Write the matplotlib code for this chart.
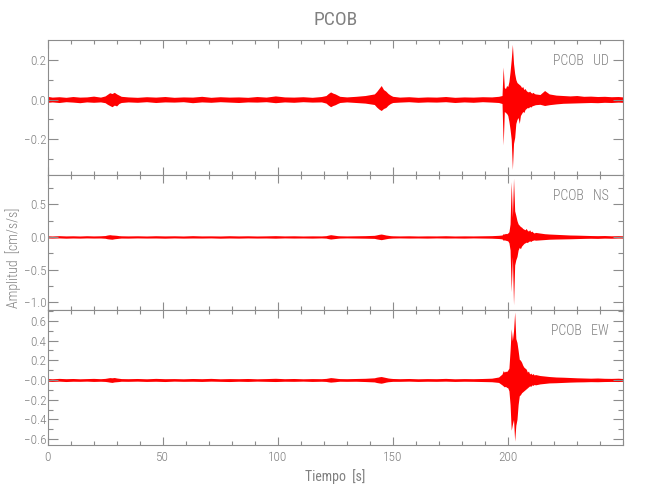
import matplotlib

matplotlib.use("Agg")
import matplotlib.pyplot as plt
from matplotlib.ticker import MultipleLocator

OUT_FILENAME = "out.png"

RED = "#ff0000"
GRAY = "#8c8c8c"
TEXT_GRAY = "#808080"

plt.rcParams["font.family"] = ["Liberation Sans Narrow", "Roboto Condensed", "DejaVu Sans"]
plt.rcParams["font.stretch"] = "condensed"
plt.rcParams["font.weight"] = "light"

STATION = "PCOB"
COMPONENTS = ["UD", "NS", "EW"]

TIME = [
    0, 2, 5, 8, 11, 14, 17, 20, 23,
    25, 26, 27, 28, 29, 30, 31, 32,
    35, 39, 43, 47, 51, 55, 59, 63, 67, 71, 75, 79, 83, 87, 91, 95, 99, 103, 107, 111, 115, 119,
    121, 122, 123, 124, 125, 126, 127,
    130, 134, 138,
    142, 143, 144, 145, 146, 147, 148, 149, 150,
    153, 157, 161, 165, 169, 173, 177, 181, 185, 189, 193, 196,
    197.5, 198, 198.5, 199, 199.5, 200, 200.5, 201, 201.5, 202, 202.5, 203, 203.5, 204, 204.5,
    205, 205.5, 206, 206.5, 207, 207.5, 208, 208.5, 209, 209.5, 210, 210.5, 211, 211.5, 212,
    214, 216, 218, 221, 224, 227, 230, 233, 236, 239, 242, 245, 248, 250,
]

# Upper / lower envelope of each component (cm/s/s)
UD_UP = [
    0.016, 0.012, 0.014, 0.011, 0.015, 0.012, 0.013, 0.017, 0.012,
    0.018, 0.026, 0.034, 0.030, 0.036, 0.028, 0.022, 0.016,
    0.013, 0.011, 0.014, 0.012, 0.015, 0.011, 0.013, 0.012, 0.016, 0.011, 0.014,
    0.012, 0.013, 0.011, 0.015, 0.012, 0.018, 0.013, 0.012, 0.014, 0.011, 0.015,
    0.020, 0.030, 0.038, 0.032, 0.028, 0.022, 0.016,
    0.013, 0.016, 0.020,
    0.028, 0.040, 0.055, 0.070, 0.050, 0.042, 0.030, 0.022, 0.016,
    0.012, 0.014, 0.011, 0.013, 0.012, 0.015, 0.011, 0.013, 0.012, 0.014, 0.013, 0.016,
    0.020, 0.163, 0.060, 0.055, 0.070, 0.065, 0.090, 0.140, 0.200, 0.276, 0.180, 0.130, 0.100, 0.085, 0.080,
    0.075, 0.070, 0.060, 0.065, 0.050, 0.055, 0.045, 0.040, 0.038, 0.042, 0.035, 0.032, 0.036, 0.030, 0.028,
    0.025, 0.045, 0.028, 0.022, 0.020, 0.018, 0.020, 0.016, 0.017, 0.015, 0.016, 0.014, 0.015, 0.013,
]
UD_LO = [
    -0.014, -0.012, -0.015, -0.011, -0.013, -0.016, -0.012, -0.014, -0.012,
    -0.016, -0.024, -0.030, -0.036, -0.028, -0.032, -0.020, -0.015,
    -0.012, -0.014, -0.011, -0.015, -0.012, -0.013, -0.011, -0.016, -0.012, -0.014, -0.011,
    -0.013, -0.015, -0.012, -0.013, -0.011, -0.016, -0.012, -0.014, -0.011, -0.013, -0.012,
    -0.018, -0.028, -0.036, -0.030, -0.026, -0.020, -0.015,
    -0.012, -0.015, -0.018,
    -0.025, -0.038, -0.048, -0.055, -0.045, -0.040, -0.028, -0.020, -0.015,
    -0.013, -0.011, -0.014, -0.012, -0.013, -0.011, -0.015, -0.012, -0.014, -0.011, -0.013, -0.015,
    -0.020, -0.228, -0.060, -0.065, -0.070, -0.080, -0.110, -0.150, -0.200, -0.350, -0.220, -0.190, -0.120, -0.100, -0.090,
    -0.120, -0.080, -0.070, -0.060, -0.065, -0.050, -0.045, -0.040, -0.042, -0.035, -0.038, -0.032, -0.030, -0.028, -0.026,
    -0.024, -0.030, -0.026, -0.022, -0.019, -0.018, -0.017, -0.016, -0.015, -0.016, -0.014, -0.015, -0.013, -0.014,
]

NS_UP = [
    0.018, 0.015, 0.020, 0.016, 0.018, 0.015, 0.019, 0.016, 0.018,
    0.022, 0.030, 0.035, 0.030, 0.028, 0.025, 0.020, 0.018,
    0.016, 0.018, 0.015, 0.019, 0.016, 0.018, 0.015, 0.020, 0.016, 0.017, 0.015,
    0.019, 0.016, 0.018, 0.015, 0.017, 0.020, 0.016, 0.018, 0.015, 0.017, 0.016,
    0.020, 0.028, 0.035, 0.030, 0.025, 0.020, 0.018,
    0.016, 0.018, 0.020,
    0.025, 0.032, 0.040, 0.045, 0.038, 0.030, 0.025, 0.020, 0.018,
    0.016, 0.018, 0.015, 0.017, 0.016, 0.019, 0.015, 0.017, 0.016, 0.018, 0.020, 0.025,
    0.030, 0.050, 0.045, 0.055, 0.050, 0.060, 0.080, 0.200, 0.850, 0.300, 0.900, 0.400, 0.330, 0.250, 0.200,
    0.180, 0.160, 0.150, 0.130, 0.120, 0.110, 0.130, 0.100, 0.090, 0.110, 0.080, 0.090, 0.070, 0.060, 0.070,
    0.060, 0.050, 0.045, 0.040, 0.035, 0.030, 0.028, 0.025, 0.022, 0.020, 0.022, 0.018, 0.020, 0.018,
]
NS_LO = [
    -0.016, -0.018, -0.015, -0.019, -0.016, -0.018, -0.015, -0.017, -0.016,
    -0.020, -0.028, -0.032, -0.035, -0.028, -0.024, -0.020, -0.017,
    -0.018, -0.015, -0.017, -0.016, -0.019, -0.015, -0.018, -0.016, -0.017, -0.015, -0.019,
    -0.016, -0.018, -0.015, -0.017, -0.016, -0.019, -0.015, -0.017, -0.016, -0.018, -0.015,
    -0.018, -0.026, -0.032, -0.028, -0.024, -0.020, -0.017,
    -0.015, -0.017, -0.019,
    -0.022, -0.030, -0.036, -0.042, -0.035, -0.028, -0.022, -0.019, -0.017,
    -0.015, -0.017, -0.016, -0.018, -0.015, -0.017, -0.016, -0.018, -0.015, -0.017, -0.019, -0.024,
    -0.030, -0.050, -0.045, -0.050, -0.055, -0.060, -0.090, -0.200, -0.840, -0.300, -1.040, -0.430, -0.350, -0.300, -0.200,
    -0.160, -0.180, -0.140, -0.120, -0.100, -0.090, -0.080, -0.085, -0.070, -0.060, -0.070, -0.055, -0.050, -0.045, -0.050,
    -0.045, -0.040, -0.035, -0.032, -0.030, -0.028, -0.025, -0.022, -0.020, -0.022, -0.018, -0.020, -0.017, -0.018,
]

EW_UP = [
    0.015, 0.012, 0.016, 0.013, 0.015, 0.012, 0.014, 0.016, 0.013,
    0.016, 0.020, 0.024, 0.022, 0.025, 0.020, 0.017, 0.014,
    0.013, 0.015, 0.012, 0.016, 0.013, 0.014, 0.012, 0.015, 0.013, 0.016, 0.012,
    0.014, 0.013, 0.015, 0.012, 0.014, 0.017, 0.013, 0.015, 0.012, 0.014, 0.013,
    0.016, 0.020, 0.024, 0.022, 0.019, 0.016, 0.014,
    0.013, 0.015, 0.017,
    0.022, 0.028, 0.032, 0.035, 0.030, 0.025, 0.020, 0.017, 0.015,
    0.013, 0.015, 0.012, 0.014, 0.013, 0.016, 0.012, 0.014, 0.013, 0.015, 0.018, 0.030,
    0.060, 0.095, 0.080, 0.090, 0.085, 0.100, 0.120, 0.300, 0.520, 0.400, 0.500, 0.690, 0.420, 0.380, 0.300,
    0.210, 0.200, 0.180, 0.150, 0.130, 0.120, 0.110, 0.080, 0.090, 0.060, 0.070, 0.055, 0.065, 0.050, 0.055,
    0.045, 0.040, 0.035, 0.030, 0.028, 0.025, 0.022, 0.020, 0.018, 0.020, 0.017, 0.016, 0.018, 0.015,
]
EW_LO = [
    -0.013, -0.015, -0.012, -0.016, -0.013, -0.014, -0.012, -0.015, -0.013,
    -0.015, -0.018, -0.022, -0.025, -0.020, -0.018, -0.016, -0.013,
    -0.014, -0.012, -0.015, -0.013, -0.016, -0.012, -0.014, -0.013, -0.015, -0.012, -0.014,
    -0.016, -0.013, -0.015, -0.012, -0.014, -0.016, -0.013, -0.014, -0.012, -0.015, -0.013,
    -0.015, -0.019, -0.022, -0.020, -0.018, -0.015, -0.013,
    -0.014, -0.013, -0.016,
    -0.020, -0.026, -0.030, -0.033, -0.028, -0.022, -0.018, -0.016, -0.014,
    -0.014, -0.012, -0.015, -0.013, -0.014, -0.012, -0.015, -0.013, -0.014, -0.016, -0.018, -0.025,
    -0.050, -0.060, -0.070, -0.065, -0.075, -0.080, -0.110, -0.250, -0.510, -0.450, -0.400, -0.620, -0.460, -0.400, -0.250,
    -0.160, -0.150, -0.130, -0.120, -0.110, -0.100, -0.090, -0.080, -0.070, -0.060, -0.065, -0.050, -0.055, -0.045, -0.050,
    -0.040, -0.035, -0.030, -0.028, -0.025, -0.022, -0.020, -0.019, -0.017, -0.018, -0.016, -0.015, -0.016, -0.014,
]

# Axis ranges and tick labels per component
Y_LIMITS = [(-0.378, 0.298), (-1.12, 0.95), (-0.66, 0.71)]
Y_TICKS = [[0.2, 0.0, -0.2], [0.5, 0.0, -0.5, -1.0], [0.6, 0.4, 0.2, 0.0, -0.2, -0.4, -0.6]]
Y_TICK_LABELS = [
    ["0.2", "0.0", "\u22120.2"],
    ["0.5", "0.0", "\u22120.5", "\u22121.0"],
    ["0.6", "0.4", "0.2", "\u22120.0", "\u22120.2", "\u22120.4", "\u22120.6"],
]
Y_MINOR = [0.1, 0.25, 0.1]
X_TICKS = [0, 50, 100, 150, 200]
X_LIMITS = (0, 250)


def style_axes(ax: plt.Axes, idx: int) -> None:
    """Gray IDL-like frame with inward ticks on all four sides."""
    for spine in ax.spines.values():
        spine.set_color(GRAY)
        spine.set_linewidth(0.8)

    ax.set_xlim(*X_LIMITS)
    ax.set_ylim(*Y_LIMITS[idx])

    ax.set_xticks(X_TICKS)
    ax.xaxis.set_minor_locator(MultipleLocator(10))
    ax.set_yticks(Y_TICKS[idx])
    ax.set_yticklabels(Y_TICK_LABELS[idx])
    ax.yaxis.set_minor_locator(MultipleLocator(Y_MINOR[idx]))

    ax.tick_params(which="both", direction="in", top=True, right=True, color=GRAY, width=0.8,
                   labelcolor=TEXT_GRAY, labelsize=9.5)
    ax.tick_params(axis="y", which="major", length=7, pad=1)
    ax.tick_params(axis="y", which="minor", length=3.6)
    ax.tick_params(axis="x", which="major", length=5.5, pad=4)
    ax.tick_params(axis="x", which="minor", length=3.2)

    if idx < 2:
        ax.tick_params(axis="x", labelbottom=False)


def main() -> None:
    fig = plt.figure(figsize=(6.5, 5), dpi=100)

    traces = [(UD_UP, UD_LO), (NS_UP, NS_LO), (EW_UP, EW_LO)]
    left, width, height = 0.0732, 0.885, 0.27
    bottoms = [0.65, 0.38, 0.11]

    for idx, (comp, (upper, lower)) in enumerate(zip(COMPONENTS, traces)):
        ax = fig.add_axes([left, bottoms[idx], width, height])
        ax.fill_between(TIME, lower, upper, color=RED, linewidth=0)
        style_axes(ax, idx)
        ax.text(0.976, 0.845, f"{STATION}   {comp}", transform=ax.transAxes,
                ha="right", va="center", fontsize=10, color=TEXT_GRAY)
        if idx == 0:
            ax.set_title(STATION, fontsize=14, color=TEXT_GRAY, pad=11)
        if idx == 2:
            ax.set_xlabel("Tiempo  [s]", fontsize=10, color=TEXT_GRAY, labelpad=4)

    fig.text(0.02, 0.485, "Amplitud  [cm/s/s]", rotation=90, ha="center", va="center",
             fontsize=10, color=TEXT_GRAY)

    fig.savefig(OUT_FILENAME, dpi=100, facecolor="white")
    plt.close(fig)


if __name__ == "__main__":
    main()
